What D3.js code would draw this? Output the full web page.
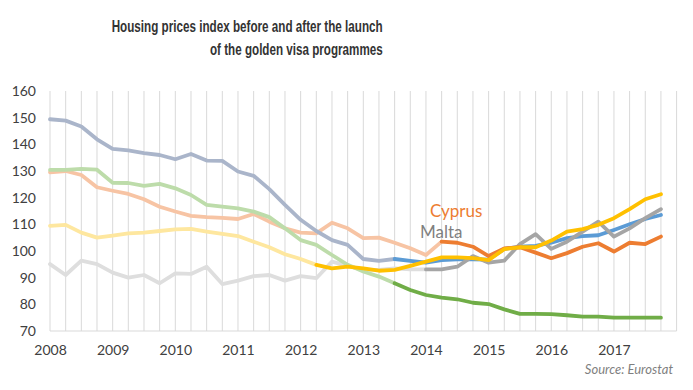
<!DOCTYPE html>
<html><head><meta charset="utf-8">
<script src="https://cdn.jsdelivr.net/npm/d3@7"></script>
<style>
html,body{margin:0;padding:0;background:#fff;}
svg{display:block;}
</style></head>
<body>
<svg id="chart" width="693" height="390"></svg>
<script>
// ---- data ----
const years = ["2008","2009","2010","2011","2012","2013","2014","2015","2016","2017"];
const quarters = ["Q1","Q2","Q3","Q4"];
const titleLines = ["Housing prices index before and after the launch", "of the golden visa programmes"];
const yTicks = [70, 80, 90, 100, 110, 120, 130, 140, 150, 160];

const spain = [149.4,148.9,146.7,141.9,138.3,137.7,136.7,136.0,134.4,136.4,133.9,133.8,129.8,128.2,123.2,117.3,111.7,107.5,104.1,102.3,97.0,96.3,97.0,96.3,95.6,96.6,96.9,96.9,96.8,100.8,101.6,101.9,103.1,104.8,105.6,105.9,107.9,110.0,112.0,113.5];
const greece = [130.4,130.4,130.8,130.5,125.6,125.5,124.4,125.2,123.5,121.0,117.3,116.6,116.0,114.8,112.7,108.5,104.1,102.3,98.5,94.8,92.3,90.4,87.9,85.4,83.5,82.5,81.9,80.6,80.1,78.1,76.4,76.4,76.3,75.9,75.4,75.4,75.0,75.0,75.0,75.0];
const cyprus = [129.5,130.0,128.5,123.9,122.6,121.4,119.4,116.6,114.8,113.2,112.7,112.4,112.0,113.9,111.0,108.5,106.9,106.6,110.6,108.5,104.8,105.0,103.1,101.0,98.5,103.5,103.1,101.6,98.1,101.0,101.4,99.4,97.3,99.2,101.6,102.9,99.8,103.1,102.6,105.4];
const portugal = [109.4,109.8,106.9,105.0,105.8,106.6,106.9,107.5,108.1,108.3,107.3,106.4,105.6,103.5,101.4,98.8,97.0,94.8,93.5,94.1,93.5,92.6,92.9,94.4,96.0,97.6,97.6,97.3,96.6,100.7,101.4,101.4,103.9,107.3,108.2,109.8,112.3,115.7,119.4,121.3];
const malta = [95.1,91.0,96.4,95.1,91.9,90.0,91.0,87.9,91.6,91.4,94.1,87.6,88.9,90.6,91.0,88.9,90.6,89.8,96.0,94.4,92.9,92.9,93.5,93.1,93.1,93.1,94.1,98.1,95.6,96.4,102.6,106.3,100.8,103.5,107.3,111.0,105.4,108.5,112.3,115.7];

// quarter index where each programme was launched (bold from here on)
const launchIndex = {spain: 22, greece: 22, cyprus: 25, portugal: 17, malta: 24};
const fadedColors = {spain: "#aab5ca", greece: "#bddcaa", cyprus: "#f7c4a4", portugal: "#fee79f", malta: "#dedede"};
const boldColors = {spain: "#5b9bd5", greece: "#70ad47", cyprus: "#ed7d31", portugal: "#ffc000", malta: "#a5a5a5"};
const seriesNames = ["malta","portugal","cyprus","greece","spain"];
const seriesData = {spain, greece, cyprus, portugal, malta};

const categories = [];
years.forEach(y => quarters.forEach(q => categories.push(y + " " + q)));

// ---- chart ----
const svg = d3.select("#chart");
const x = d3.scaleLinear().domain([0, categories.length]).range([50, 676.6]);
const y = d3.scaleLinear().domain([70, 160]).range([331, 91]);

// vertical gridlines
svg.append("g").selectAll("line")
  .data(d3.range(categories.length + 1))
  .join("line")
  .attr("x1", d => x(d)).attr("x2", d => x(d))
  .attr("y1", y(160)).attr("y2", y(70))
  .attr("stroke", "#d9d9d9").attr("stroke-width", 1);

// bottom axis line
svg.append("line")
  .attr("x1", x(0)).attr("x2", x(categories.length))
  .attr("y1", y(70)).attr("y2", y(70))
  .attr("stroke", "#d9d9d9").attr("stroke-width", 1);

// y axis labels
const yAxis = d3.axisLeft(y).tickValues(yTicks).tickSize(0).tickPadding(0);
const gy = svg.append("g").attr("transform", "translate(36,0)").call(yAxis);
gy.select(".domain").remove();
gy.selectAll("text").attr("font-family", "Lato, 'Open Sans', sans-serif").attr("font-size", 14).attr("fill", "#404040");

// x axis labels
const yearIdx = years.map((yr, i) => i * 4);
const xAxis = d3.axisBottom(x).tickValues(yearIdx).tickFormat((d, i) => years[i]).tickSize(0).tickPadding(0);
const gx = svg.append("g").attr("transform", "translate(0,345)").call(xAxis);
gx.select(".domain").remove();
gx.selectAll("text").attr("font-family", "Lato, 'Open Sans', sans-serif").attr("font-size", 14).attr("fill", "#404040");

const line = d3.line().x(d => x(d.i)).y(d => y(d.v)).curve(d3.curveLinear);

// faded (before launch)
seriesNames.forEach(name => {
  const vals = seriesData[name].map((v, i) => ({i, v}));
  svg.append("path")
    .datum(vals.slice(0, launchIndex[name] + 1))
    .attr("d", line).attr("fill", "none")
    .attr("stroke", fadedColors[name]).attr("stroke-width", 3.8)
    .attr("stroke-linejoin", "round").attr("stroke-linecap", "round");
});
// bold (after launch)
["greece","spain","malta","cyprus","portugal"].forEach(name => {
  const vals = seriesData[name].map((v, i) => ({i, v}));
  svg.append("path")
    .datum(vals.slice(launchIndex[name]))
    .attr("d", line).attr("fill", "none")
    .attr("stroke", boldColors[name]).attr("stroke-width", 3.8)
    .attr("stroke-linejoin", "round").attr("stroke-linecap", "round");
});

// series labels
svg.append("text").attr("x", 430).attr("y", 216.5).text("Cyprus")
  .attr("font-family", "Lato, 'Open Sans', sans-serif").attr("font-size", 17).attr("fill", "#ed7d31");
svg.append("text").attr("x", 420).attr("y", 237.5).text("Malta")
  .attr("font-family", "Lato, 'Open Sans', sans-serif").attr("font-size", 17).attr("fill", "#7f7f7f");

// title
const titleWidths = [271, 172.7];
const titleBaselines = [32, 54.5];
titleLines.forEach((t, i) => {
  svg.append("text").attr("x", 382.7).attr("y", titleBaselines[i])
    .attr("text-anchor", "end")
    .attr("font-family", "'Liberation Sans Narrow', 'Liberation Sans', Arial, sans-serif")
    .attr("font-weight", "bold").attr("font-size", 16.5).attr("fill", "#333333")
    .attr("textLength", titleWidths[i]).attr("lengthAdjust", "spacingAndGlyphs")
    .text(t);
});

// source
svg.append("text").attr("x", 673).attr("y", 374).attr("text-anchor", "end")
  .attr("font-family", "Lato, 'Open Sans', sans-serif").attr("font-style", "italic")
  .attr("font-size", 13).attr("fill", "#7f7f7f").text("Source: Eurostat");
</script>
</body></html>
